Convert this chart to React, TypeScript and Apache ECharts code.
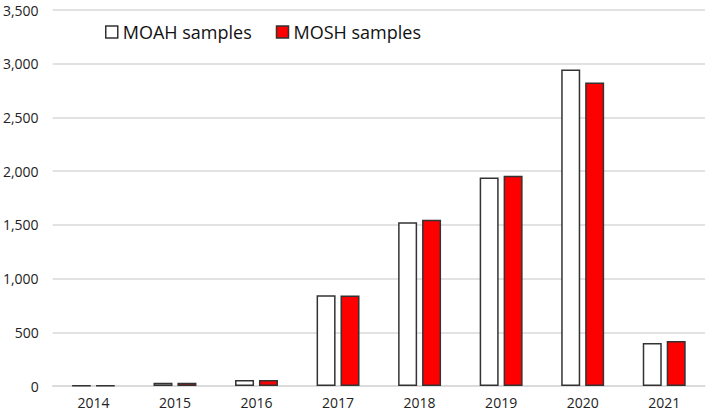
import React, { useEffect, useRef } from "react";
import * as echarts from "echarts";

const categories = ["2014", "2015", "2016", "2017", "2018", "2019", "2020", "2021"];
const moahValues = [3, 30, 55, 845, 1525, 1940, 2945, 400];
const moshValues = [3, 30, 55, 843, 1548, 1958, 2825, 418];
const yTicks = [0, 500, 1000, 1500, 2000, 2500, 3000, 3500];

export default function App() {
  const ref = useRef<HTMLDivElement>(null);
  useEffect(() => {
    if (!ref.current) return;
    const chart = echarts.init(ref.current, null, { renderer: "svg" });
    const font = "'Open Sans', 'Noto Sans', sans-serif";
    chart.setOption({
      animation: false,
      textStyle: { fontFamily: font },
      grid: { left: 48, right: 4, top: 10, bottom: 31, containLabel: false },
      legend: {
        top: 18,
        left: 100,
        icon: "rect",
        itemWidth: 12,
        itemHeight: 12,
        itemGap: 24,
        textStyle: { fontSize: 18, color: "#111", fontFamily: font },
        data: [
          { name: "MOAH samples", itemStyle: { color: "#fff", borderColor: "#333", borderWidth: 1.5 } },
          { name: "MOSH samples", itemStyle: { color: "#ff0000", borderColor: "#333", borderWidth: 1.5 } },
        ],
      },
      xAxis: {
        type: "category",
        data: categories,
        axisTick: { show: false },
        axisLine: { lineStyle: { color: "#d9d9d9", width: 1.5 } },
        axisLabel: { color: "#222", fontSize: 14, margin: 9, fontFamily: font },
      },
      yAxis: {
        type: "value",
        min: yTicks[0],
        max: yTicks[yTicks.length - 1],
        interval: 500,
        axisLine: { show: false },
        axisTick: { show: false },
        splitLine: { lineStyle: { color: "#d9d9d9", width: 1.5 } },
        axisLabel: {
          color: "#222",
          fontSize: 14,
          margin: 14,
          fontFamily: font,
          formatter: (v: number) => v.toLocaleString("en-US"),
        },
      },
      series: [
        {
          name: "MOAH samples",
          type: "bar",
          data: moahValues,
          barWidth: 19,
          barGap: "26%",
          itemStyle: { color: "#fff", borderColor: "#333", borderWidth: 1.5 },
        },
        {
          name: "MOSH samples",
          type: "bar",
          data: moshValues,
          barWidth: 19,
          barGap: "26%",
          itemStyle: { color: "#ff0000", borderColor: "#333", borderWidth: 1.5 },
        },
      ],
    });
    return () => chart.dispose();
  }, []);
  return <div ref={ref} style={{ width: 709, height: 417, position: "absolute", left: 0, top: 0 }} />;
}
